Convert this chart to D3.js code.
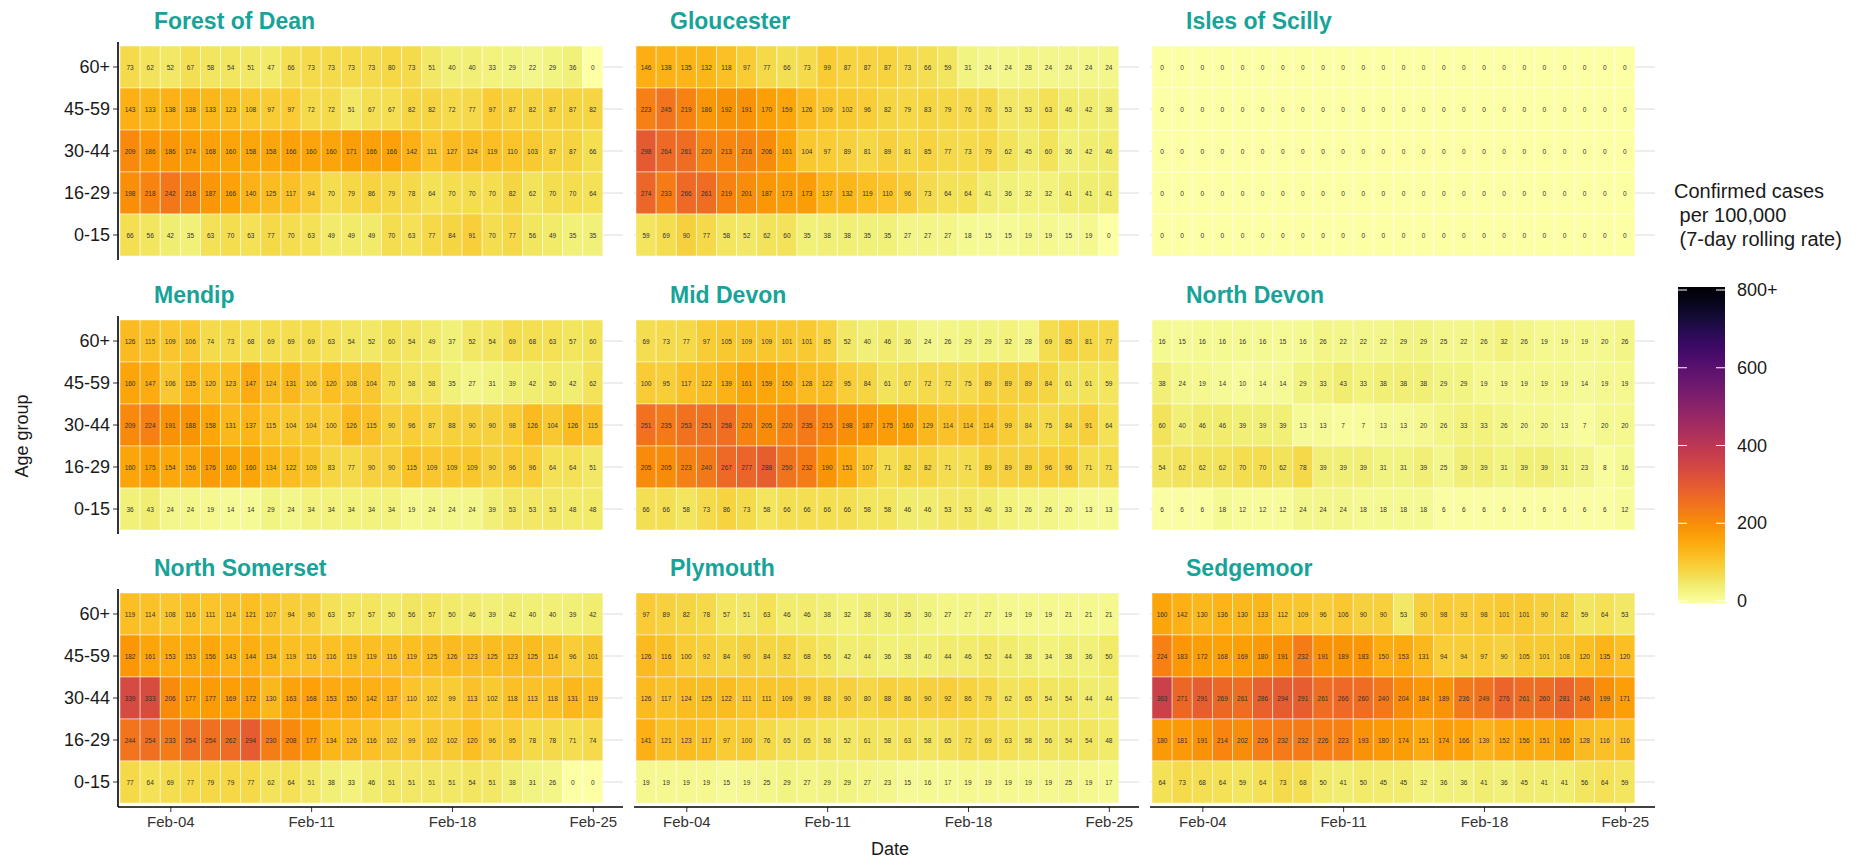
<!DOCTYPE html>
<html>
<head>
<meta charset="utf-8">
<script src="https://cdn.jsdelivr.net/npm/d3@7"></script>
<style>
  body { margin: 0; background: #fff; }
  text { font-family: "Liberation Sans", Arial, sans-serif; }
</style>
</head>
<body>
<svg id="chart" width="1874" height="865"></svg>
<script>
// age groups, top to bottom
const ageGroups = ["60+", "45-59", "30-44", "16-29", "0-15"];
const dates = [
  "2021-02-02", "2021-02-03", "2021-02-04", "2021-02-05", "2021-02-06", "2021-02-07",
  "2021-02-08", "2021-02-09", "2021-02-10", "2021-02-11", "2021-02-12", "2021-02-13",
  "2021-02-14", "2021-02-15", "2021-02-16", "2021-02-17", "2021-02-18", "2021-02-19",
  "2021-02-20", "2021-02-21", "2021-02-22", "2021-02-23", "2021-02-24", "2021-02-25"
];
const tickDates = ["2021-02-04", "2021-02-11", "2021-02-18", "2021-02-25"];
const tickLabels = ["Feb-04", "Feb-11", "Feb-18", "Feb-25"];
const legendTicks = [0, 200, 400, 600, 800];
const legendLabels = ["0", "200", "400", "600", "800+"];

const areaNames = [
  "Forest of Dean", "Gloucester", "Isles of Scilly",
  "Mendip", "Mid Devon", "North Devon",
  "North Somerset", "Plymouth", "Sedgemoor"
];

// each area: rows in ageGroups order, one value per date
const forestOfDean = [
  [73, 62, 52, 67, 58, 54, 51, 47, 66, 73, 73, 73, 73, 80, 73, 51, 40, 40, 33, 29, 22, 29, 36, 0],
  [143, 133, 138, 138, 133, 123, 108, 97, 97, 72, 72, 51, 67, 67, 82, 82, 72, 77, 97, 87, 82, 87, 87, 82],
  [209, 186, 186, 174, 168, 160, 158, 158, 166, 160, 160, 171, 166, 166, 142, 111, 127, 124, 119, 110, 103, 87, 87, 66],
  [198, 218, 242, 218, 187, 166, 140, 125, 117, 94, 70, 79, 86, 79, 78, 64, 70, 70, 70, 82, 62, 70, 70, 64],
  [66, 56, 42, 35, 63, 70, 63, 77, 70, 63, 49, 49, 49, 70, 63, 77, 84, 91, 70, 77, 56, 49, 35, 35]
];
const gloucester = [
  [146, 138, 135, 132, 118, 97, 77, 66, 73, 99, 87, 87, 87, 73, 66, 59, 31, 24, 24, 28, 24, 24, 24, 24],
  [223, 245, 219, 186, 192, 191, 170, 159, 126, 109, 102, 96, 82, 79, 83, 79, 76, 76, 53, 53, 63, 46, 42, 38],
  [298, 264, 261, 220, 213, 216, 206, 161, 104, 97, 89, 81, 89, 81, 85, 77, 73, 79, 62, 45, 60, 36, 42, 46],
  [274, 233, 266, 261, 219, 201, 187, 173, 173, 137, 132, 119, 110, 96, 73, 64, 64, 41, 36, 32, 32, 41, 41, 41],
  [59, 69, 90, 77, 58, 52, 62, 60, 35, 38, 38, 35, 35, 27, 27, 27, 18, 15, 15, 19, 19, 15, 19, 0]
];
const islesOfScilly = [
  [0, 0, 0, 0, 0, 0, 0, 0, 0, 0, 0, 0, 0, 0, 0, 0, 0, 0, 0, 0, 0, 0, 0, 0],
  [0, 0, 0, 0, 0, 0, 0, 0, 0, 0, 0, 0, 0, 0, 0, 0, 0, 0, 0, 0, 0, 0, 0, 0],
  [0, 0, 0, 0, 0, 0, 0, 0, 0, 0, 0, 0, 0, 0, 0, 0, 0, 0, 0, 0, 0, 0, 0, 0],
  [0, 0, 0, 0, 0, 0, 0, 0, 0, 0, 0, 0, 0, 0, 0, 0, 0, 0, 0, 0, 0, 0, 0, 0],
  [0, 0, 0, 0, 0, 0, 0, 0, 0, 0, 0, 0, 0, 0, 0, 0, 0, 0, 0, 0, 0, 0, 0, 0]
];
const mendip = [
  [126, 115, 109, 106, 74, 73, 68, 69, 69, 69, 63, 54, 52, 60, 54, 49, 37, 52, 54, 69, 68, 63, 57, 60],
  [160, 147, 106, 135, 120, 123, 147, 124, 131, 106, 120, 108, 104, 70, 58, 58, 35, 27, 31, 39, 42, 50, 42, 62],
  [209, 224, 191, 188, 158, 131, 137, 115, 104, 104, 100, 126, 115, 90, 96, 87, 88, 90, 90, 98, 126, 104, 126, 115],
  [160, 175, 154, 156, 176, 160, 160, 134, 122, 109, 83, 77, 90, 90, 115, 109, 109, 109, 90, 96, 96, 64, 64, 51],
  [36, 43, 24, 24, 19, 14, 14, 29, 24, 34, 34, 34, 34, 34, 19, 24, 24, 24, 39, 53, 53, 53, 48, 48]
];
const midDevon = [
  [69, 73, 77, 97, 105, 109, 109, 101, 101, 85, 52, 40, 46, 36, 24, 26, 29, 29, 32, 28, 69, 85, 81, 77],
  [100, 95, 117, 122, 139, 161, 159, 150, 128, 122, 95, 84, 61, 67, 72, 72, 75, 89, 89, 89, 84, 61, 61, 59],
  [251, 235, 253, 251, 258, 220, 205, 220, 235, 215, 198, 187, 175, 160, 129, 114, 114, 114, 99, 84, 75, 84, 91, 64],
  [205, 205, 223, 240, 267, 277, 288, 250, 232, 190, 151, 107, 71, 82, 82, 71, 71, 89, 89, 89, 96, 96, 71, 71],
  [66, 66, 58, 73, 86, 73, 58, 66, 66, 66, 66, 58, 58, 46, 46, 53, 53, 46, 33, 26, 26, 20, 13, 13]
];
const northDevon = [
  [16, 15, 16, 16, 16, 16, 15, 16, 26, 22, 22, 22, 29, 29, 25, 22, 26, 32, 26, 19, 19, 19, 20, 26],
  [38, 24, 19, 14, 10, 14, 14, 29, 33, 43, 33, 38, 38, 38, 29, 29, 19, 19, 19, 19, 19, 14, 19, 19],
  [60, 40, 46, 46, 39, 39, 39, 13, 13, 7, 7, 13, 13, 20, 26, 33, 33, 26, 20, 20, 13, 7, 20, 20],
  [54, 62, 62, 62, 70, 70, 62, 78, 39, 39, 39, 31, 31, 39, 25, 39, 39, 31, 39, 39, 31, 23, 8, 16],
  [6, 6, 6, 18, 12, 12, 12, 24, 24, 24, 18, 18, 18, 18, 6, 6, 6, 6, 6, 6, 6, 6, 6, 12]
];
const northSomerset = [
  [119, 114, 108, 116, 111, 114, 121, 107, 94, 90, 63, 57, 57, 50, 56, 57, 50, 46, 39, 42, 40, 40, 39, 42],
  [182, 161, 153, 153, 156, 143, 144, 134, 119, 116, 116, 119, 119, 116, 119, 125, 126, 123, 125, 123, 125, 114, 96, 101],
  [339, 333, 206, 177, 177, 169, 172, 130, 163, 168, 153, 150, 142, 137, 110, 102, 99, 113, 102, 118, 113, 118, 131, 119],
  [244, 254, 233, 254, 254, 262, 294, 230, 208, 177, 134, 126, 116, 102, 99, 102, 102, 120, 96, 95, 78, 78, 71, 74],
  [77, 64, 69, 77, 79, 79, 77, 62, 64, 51, 38, 33, 46, 51, 51, 51, 51, 54, 51, 38, 31, 26, 0, 0]
];
const plymouth = [
  [97, 89, 82, 78, 57, 51, 63, 46, 46, 38, 32, 38, 36, 35, 30, 27, 27, 27, 19, 19, 19, 21, 21, 21],
  [126, 116, 100, 92, 84, 90, 84, 82, 68, 56, 42, 44, 36, 38, 40, 44, 46, 52, 44, 38, 34, 38, 36, 50],
  [126, 117, 124, 125, 122, 111, 111, 109, 99, 88, 90, 80, 88, 86, 90, 92, 86, 79, 62, 65, 54, 54, 44, 44],
  [141, 121, 123, 117, 97, 100, 76, 65, 65, 58, 52, 61, 58, 63, 58, 65, 72, 69, 63, 58, 56, 54, 54, 48],
  [19, 19, 19, 19, 15, 19, 25, 29, 27, 29, 29, 27, 23, 15, 16, 17, 19, 19, 19, 19, 19, 25, 19, 17]
];
const sedgemoor = [
  [160, 142, 130, 136, 130, 133, 112, 109, 96, 106, 90, 90, 53, 90, 98, 93, 98, 101, 101, 90, 82, 59, 64, 53],
  [224, 183, 172, 168, 169, 180, 191, 232, 191, 189, 183, 150, 153, 131, 94, 94, 97, 90, 105, 101, 108, 120, 135, 120],
  [363, 271, 291, 269, 261, 286, 294, 291, 261, 266, 260, 240, 204, 184, 189, 236, 249, 276, 261, 260, 281, 246, 199, 171],
  [180, 181, 191, 214, 202, 226, 232, 232, 226, 223, 193, 180, 174, 151, 174, 166, 139, 152, 156, 151, 165, 128, 116, 116],
  [64, 73, 68, 64, 59, 64, 73, 68, 50, 41, 50, 45, 45, 32, 36, 36, 41, 36, 45, 41, 41, 56, 64, 59]
];

const areaValues = [
  forestOfDean, gloucester, islesOfScilly,
  mendip, midDevon, northDevon,
  northSomerset, plymouth, sedgemoor
];

const svg = d3.select("#chart");
const parse = d3.utcParse("%Y-%m-%d");
const colLeft = [118, 634, 1150];
const rowTop = [42, 316, 589];
const panelW = 505, panelH = 218, pad = 4;
const color = v => d3.interpolateInferno(1 - Math.min(v, 800) / 800);

const firstDay = parse(dates[0]);
const lastDay = parse(dates[dates.length - 1]);

areaNames.forEach((name, i) => {
  const col = i % 3, row = Math.floor(i / 3);
  const left = colLeft[col], top = rowTop[row];

  const x = d3.scaleUtc()
    .domain([d3.utcHour.offset(firstDay, -12), d3.utcHour.offset(lastDay, 36)])
    .range([left + 2, left + panelW]);
  const y = d3.scaleBand()
    .domain(ageGroups)
    .range([top + pad, top + panelH - pad]);
  const cw = x(d3.utcDay.offset(firstDay, 1)) - x(firstDay);

  const g = svg.append("g");

  // horizontal grid lines (only seen where there are no tiles)
  g.selectAll(".grid")
    .data(ageGroups)
    .join("line")
    .attr("class", "grid")
    .attr("x1", left)
    .attr("x2", left + panelW)
    .attr("y1", d => y(d) + y.bandwidth() / 2)
    .attr("y2", d => y(d) + y.bandwidth() / 2)
    .attr("stroke", "#dcdcdc")
    .attr("stroke-width", 1);

  const cells = areaValues[i].flatMap((vals, r) =>
    vals.map((v, c) => ({ age: ageGroups[r], date: parse(dates[c]), v }))
  );

  g.selectAll("rect")
    .data(cells)
    .join("rect")
    .attr("x", d => x(d.date) - cw / 2)
    .attr("y", d => y(d.age))
    .attr("width", cw)
    .attr("height", y.bandwidth())
    .attr("fill", d => color(d.v))
    .attr("stroke", "#fff")
    .attr("stroke-opacity", 0.6)
    .attr("stroke-width", 0.8);

  g.selectAll(".val")
    .data(cells)
    .join("text")
    .attr("class", "val")
    .attr("x", d => x(d.date))
    .attr("y", d => y(d.age) + y.bandwidth() / 2)
    .attr("text-anchor", "middle")
    .attr("dominant-baseline", "central")
    .attr("font-size", 6.5)
    .attr("fill", "#333")
    .text(d => d.v);

  g.append("text")
    .attr("x", left + 36)
    .attr("y", top - 13)
    .attr("font-size", 23)
    .attr("font-weight", "bold")
    .attr("fill", "#17a398")
    .text(name);

  if (col === 0) {
    const ya = g.append("g")
      .attr("transform", `translate(${left},0)`)
      .call(d3.axisLeft(y).tickSize(5).tickSizeOuter(0).tickPadding(3));
    ya.select(".domain").remove();
    ya.selectAll("text").attr("font-size", 18).attr("fill", "#1a1a1a")
      .attr("font-family", "Liberation Sans, Arial, sans-serif");
    ya.selectAll("line").attr("stroke", "#333");
    g.append("line")
      .attr("x1", left).attr("x2", left)
      .attr("y1", top).attr("y2", top + panelH)
      .attr("stroke", "#000").attr("stroke-width", 1.6);
  }

  if (row === 2) {
    const xa = g.append("g")
      .attr("transform", `translate(0,${top + panelH})`)
      .call(d3.axisBottom(x)
        .tickValues(tickDates.map(parse))
        .tickFormat((d, k) => tickLabels[k])
        .tickSize(5).tickSizeOuter(0).tickPadding(4));
    xa.select(".domain").remove();
    xa.selectAll("text").attr("font-size", 15).attr("fill", "#333")
      .attr("font-family", "Liberation Sans, Arial, sans-serif");
    xa.selectAll("line").attr("stroke", "#333");
    g.append("line")
      .attr("x1", left).attr("x2", left + panelW)
      .attr("y1", top + panelH).attr("y2", top + panelH)
      .attr("stroke", "#000").attr("stroke-width", 1.6);
  }
});

// axis titles
svg.append("text")
  .attr("x", 890).attr("y", 855)
  .attr("text-anchor", "middle")
  .attr("font-size", 18).attr("fill", "#1a1a1a")
  .text("Date");
svg.append("text")
  .attr("transform", "translate(28,436) rotate(-90)")
  .attr("text-anchor", "middle")
  .attr("font-size", 18).attr("fill", "#1a1a1a")
  .text("Age group");

// legend
const legendX = 1678, legendW = 47;
const ly = d3.scaleLinear().domain([0, 800]).range([601, 290]);
const defs = svg.append("defs");
const grad = defs.append("linearGradient")
  .attr("id", "inferno")
  .attr("x1", 0).attr("y1", 1).attr("x2", 0).attr("y2", 0);
grad.selectAll("stop")
  .data(d3.range(0, 1.0001, 0.05))
  .join("stop")
  .attr("offset", d => d)
  .attr("stop-color", d => color(d * 800));

["Confirmed cases", " per 100,000", " (7-day rolling rate)"].forEach((t, k) => {
  svg.append("text")
    .attr("x", 1674).attr("y", 198 + k * 24)
    .attr("font-size", 20).attr("fill", "#1a1a1a")
    .attr("xml:space", "preserve")
    .style("white-space", "pre")
    .text(t);
});

svg.append("rect")
  .attr("x", legendX).attr("y", ly(800) - 3)
  .attr("width", legendW).attr("height", ly(0) - ly(800) + 5)
  .attr("fill", "url(#inferno)");

svg.selectAll(".lt")
  .data(legendTicks)
  .join("g")
  .attr("class", "lt")
  .each(function (d) {
    const s = d3.select(this);
    s.append("line").attr("x1", legendX).attr("x2", legendX + 9)
      .attr("y1", ly(d)).attr("y2", ly(d)).attr("stroke", "#fff").attr("stroke-width", 1);
    s.append("line").attr("x1", legendX + legendW - 9).attr("x2", legendX + legendW)
      .attr("y1", ly(d)).attr("y2", ly(d)).attr("stroke", "#fff").attr("stroke-width", 1);
  });

svg.selectAll(".ll")
  .data(legendTicks)
  .join("text")
  .attr("class", "ll")
  .attr("x", 1737)
  .attr("y", d => ly(d))
  .attr("dominant-baseline", "central")
  .attr("font-size", 18).attr("fill", "#1a1a1a")
  .text((d, k) => legendLabels[k]);
</script>
</body>
</html>
